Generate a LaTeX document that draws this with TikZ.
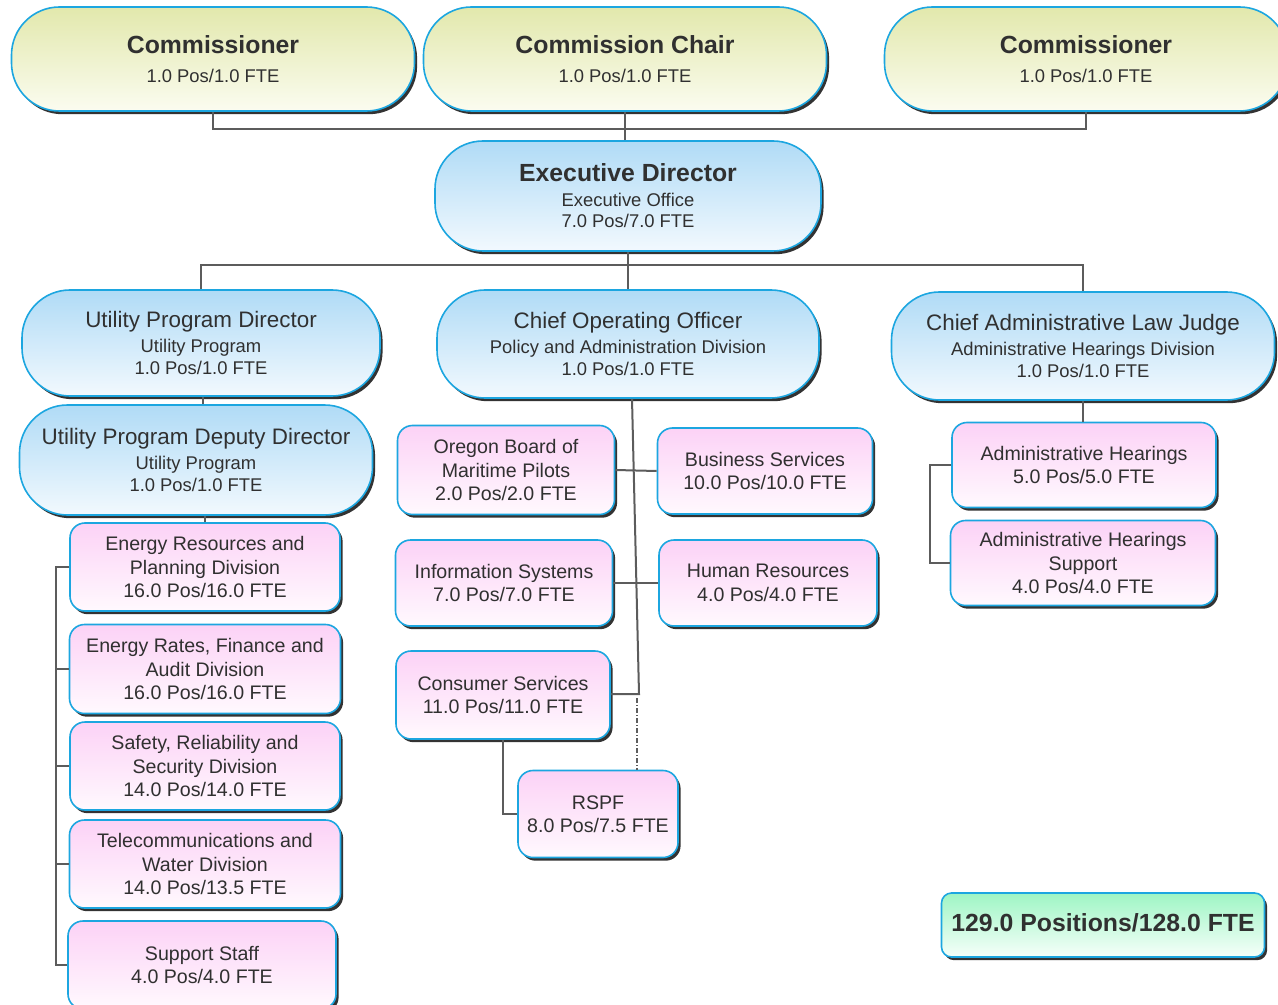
\documentclass[tikz,border=0pt]{standalone}
\usepackage{fontspec}
\setmainfont{Liberation Sans}
\usetikzlibrary{shadows}

\definecolor{boardtop}{RGB}{226,232,172}
\definecolor{boardbot}{RGB}{251,252,240}
\definecolor{officetop}{RGB}{176,219,246}
\definecolor{officebot}{RGB}{242,249,254}
\definecolor{unittop}{RGB}{252,210,246}
\definecolor{unitbot}{RGB}{255,249,254}
\definecolor{sumtop}{RGB}{158,245,196}
\definecolor{sumbot}{RGB}{246,255,250}
\definecolor{edgecyan}{RGB}{28,166,224}
\definecolor{inkgray}{RGB}{48,48,48}
\definecolor{wiregray}{RGB}{92,92,92}

\newcommand{\headfont}{\fontsize{12.4}{14}\selectfont\bfseries}
\newcommand{\rolefont}{\fontsize{11.2}{13}\selectfont}
\newcommand{\smallfont}{\fontsize{9.2}{10.8}\selectfont}
\newcommand{\unitfont}{\fontsize{9.8}{11.75}\selectfont}

\tikzset{
  orgbox/.style={draw=edgecyan, line width=0.8pt, inner sep=0pt, align=center, text=inkgray,
    drop shadow={shadow xshift=1.3pt, shadow yshift=-1.6pt, fill=black, opacity=0.8}},
  boardbox/.style={orgbox, rounded corners=24pt, top color=boardtop, bottom color=boardbot,
    minimum width=201.5pt, minimum height=52pt, font=\smallfont},
  officebox/.style={orgbox, rounded corners=24pt, top color=officetop, bottom color=officebot, font=\smallfont},
  unitbox/.style={orgbox, rounded corners=7.5pt, top color=unittop, bottom color=unitbot, font=\unitfont},
  sumbox/.style={orgbox, rounded corners=5pt, top color=sumtop, bottom color=sumbot, font=\headfont},
  conn/.style={draw=wiregray, line width=1pt},
  dashdotline/.style={conn, line width=0.8pt, dash pattern=on 2.5pt off 1pt on 0.5pt off 1pt}
}

\begin{document}
\begin{tikzpicture}[x=0.5pt, y=-0.5pt]
\useasboundingbox (0,0) rectangle (1278,1005);

\node[boardbox] (comA) at (213,59) {{\headfont Commissioner}\\[3.8pt] 1.0 Pos/1.0 FTE};
\node[boardbox] (chair) at (625,59) {{\headfont Commission Chair}\\[3.8pt] 1.0 Pos/1.0 FTE};
\node[boardbox] (comB) at (1086,59) {{\headfont Commissioner}\\[3.8pt] 1.0 Pos/1.0 FTE};

\node[officebox, minimum width=193pt, minimum height=55pt] (exec) at (628,196)
  {{\headfont Executive Director}\\[1.3pt] Executive Office\\ 7.0 Pos/7.0 FTE};

\node[officebox, minimum width=179pt, minimum height=53pt] (upd) at (201,343)
  {{\rolefont Utility Program Director}\\[1.8pt] Utility Program\\ 1.0 Pos/1.0 FTE};
\node[officebox, minimum width=191pt, minimum height=54pt] (coo) at (628,344)
  {{\rolefont Chief Operating Officer}\\[1.8pt] Policy and Administration Division\\ 1.0 Pos/1.0 FTE};
\node[officebox, minimum width=191.5pt, minimum height=54pt] (alj) at (1083,346)
  {{\rolefont Chief Administrative Law Judge}\\[1.8pt] Administrative Hearings Division\\ 1.0 Pos/1.0 FTE};
\node[officebox, minimum width=176.5pt, minimum height=55pt] (updd) at (196,460)
  {{\rolefont Utility Program Deputy Director}\\[1.8pt] Utility Program\\ 1.0 Pos/1.0 FTE};

% utility program units
\node[unitbox, minimum width=135pt, minimum height=44pt] (energyres) at (205,567)
  {Energy Resources and\\ Planning Division\\ 16.0 Pos/16.0 FTE};
\node[unitbox, minimum width=135.5pt, minimum height=44.5pt] (energyrates) at (205,669)
  {Energy Rates, Finance and\\ Audit Division\\ 16.0 Pos/16.0 FTE};
\node[unitbox, minimum width=135pt, minimum height=44pt] (safety) at (205,766)
  {Safety, Reliability and\\ Security Division\\ 14.0 Pos/14.0 FTE};
\node[unitbox, minimum width=135.5pt, minimum height=44pt] (telecom) at (205,864)
  {Telecommunications and\\ Water Division\\ 14.0 Pos/13.5 FTE};
\node[unitbox, minimum width=134pt, minimum height=44pt] (support) at (202,965)
  {Support Staff\\ 4.0 Pos/4.0 FTE};

% policy and administration units
\node[unitbox, minimum width=108.5pt, minimum height=44.5pt] (obmp) at (506,470)
  {Oregon Board of\\ Maritime Pilots\\ 2.0 Pos/2.0 FTE};
\node[unitbox, minimum width=107.5pt, minimum height=43pt] (bizsvc) at (765,471)
  {Business Services\\ 10.0 Pos/10.0 FTE};
\node[unitbox, minimum width=108.5pt, minimum height=43pt] (infosys) at (504,583)
  {Information Systems\\ 7.0 Pos/7.0 FTE};
\node[unitbox, minimum width=109pt, minimum height=43pt] (hr) at (768,583)
  {Human Resources\\ 4.0 Pos/4.0 FTE};
\node[unitbox, minimum width=107pt, minimum height=44pt] (consumer) at (503,695)
  {Consumer Services\\ 11.0 Pos/11.0 FTE};
\node[unitbox, minimum width=80pt, minimum height=43.5pt] (rspf) at (598,814)
  {RSPF\\ 8.0 Pos/7.5 FTE};

% hearings units
\node[unitbox, minimum width=132pt, minimum height=42.5pt] (ah) at (1084,465)
  {Administrative Hearings\\ 5.0 Pos/5.0 FTE};
\node[unitbox, minimum width=132.5pt, minimum height=42.5pt] (ahs) at (1083,563)
  {Administrative Hearings\\ Support\\ 4.0 Pos/4.0 FTE};

\node[sumbox, minimum width=161.5pt, minimum height=32pt] (total) at (1103,925)
  {\raisebox{2pt}{129.0 Positions/128.0 FTE}};

\draw[conn] (comA.south) -- ++(0,17) -| (comB.south);
\draw[conn] (chair.south) -- (chair.south |- exec.north);

\draw[conn] (exec.south) -- (coo.north);
\draw[conn] (upd.north) |- (exec.south |- 0,265) -| (alj.north);

\draw[conn] (upd.south -| 203,0) -- (updd.north -| 203,0);
\draw[conn] (energyres.north |- updd.south) -- (energyres.north);

\coordinate (lbus) at (56,562);
\draw[conn] (energyres.west) -| (lbus |- support.west) -- (support.west);
\foreach \n in {energyrates, safety, telecom}
  \draw[conn] (\n.west) -- (lbus |- \n.west);

\coordinate (cookink) at (639,694);
\draw[conn] ([xshift=2pt]coo.south) -- (cookink) -- (consumer.east |- cookink);
\draw[conn] (obmp.east) -- (bizsvc.west);
\draw[conn] (infosys.east) -- (hr.west);
\draw[conn] (consumer.south) |- (rspf.west);
\coordinate (rspfdot) at (637,698);
\draw[dashdotline] (rspfdot) -- (rspfdot |- rspf.north);

\draw[conn] (alj.south) -- (alj.south |- ah.north);
\draw[conn] (ah.west) -- ++(-21,0) |- (ahs.west);

\end{tikzpicture}
\end{document}
